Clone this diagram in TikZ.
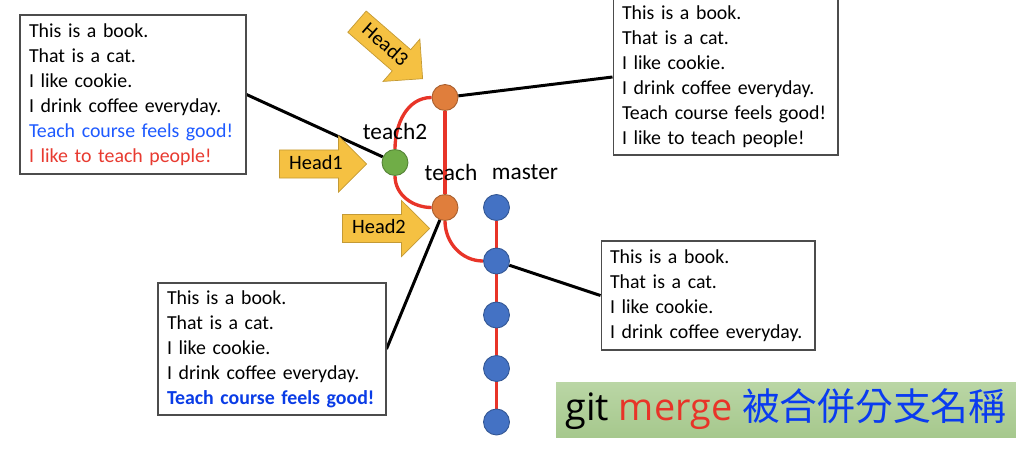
\documentclass[tikz,border=0pt]{standalone}
\usepackage{fontspec}
\setmainfont{Carlito}
\newfontfamily\cjkfont{Noto Sans CJK TC}
\newfontfamily\bannerfont{Open Sans}
\usetikzlibrary{shapes.arrows,backgrounds}
\definecolor{gold}{RGB}{245,193,66}
\definecolor{orng}{RGB}{224,126,60}
\definecolor{grn}{RGB}{112,173,71}
\definecolor{blu}{RGB}{68,114,196}
\definecolor{gitred}{RGB}{232,52,40}
\definecolor{txtblue}{RGB}{30,90,255}
\definecolor{txtred}{RGB}{232,58,48}
\definecolor{boldblue}{RGB}{10,60,230}
\definecolor{cnblue}{RGB}{10,59,240}
\tikzset{
  msg/.style    ={draw=black!70,line width=0.6pt,fill=white,align=left,inner xsep=0.18cm,inner ysep=0pt,
                  font=\fontsize{11.3}{14.2}\selectfont},
  commit/.style ={circle,minimum size=0.52cm,inner sep=0pt,line width=0.5pt},
  ocommit/.style={commit,fill=orng,draw=orng!75!black},
  gcommit/.style={commit,fill=grn,draw=grn!75!black},
  bcommit/.style={commit,fill=blu,draw=blu!75!black},
  headarr/.style={single arrow,fill=gold,draw=gold!80!black,line width=0.4pt,anchor=tip,
                  font=\fontsize{11.6}{14}\selectfont,text height=8.5pt,text depth=2.5pt,inner ysep=2.3pt,
                  inner xsep=2pt,single arrow head extend=0.28cm,minimum height=1.74cm},
  blabel/.style ={font=\fontsize{13.3}{15}\selectfont,inner sep=0pt},
  link/.style   ={line width=1.7pt},
  branch/.style ={draw=gitred,line width=1.9pt},
}

\begin{document}
\begin{tikzpicture}[x=0.02cm,y=-0.02cm]
  \useasboundingbox (0,0) rectangle (1024,450);
  \node[msg,text width=4.16cm,minimum width=4.52cm,minimum height=3.18cm] (b1) at (133,94.5)
    {This is a book.\\That is a cat.\\I like cookie.\\I drink coffee everyday.\\
     \textcolor{txtblue}{Teach course feels good!}\\\textcolor{txtred}{I like to teach people!}};
  \node[msg,text width=4.14cm,minimum width=4.5cm,minimum height=3.12cm] (b2) at (725.5,77)
    {This is a book.\\That is a cat.\\I like cookie.\\I drink coffee everyday.\\
     Teach course feels good!\\I like to teach people!};
  \node[msg,text width=3.92cm,minimum width=4.28cm,minimum height=2.18cm] (b3) at (708,295.5)
    {This is a book.\\That is a cat.\\I like cookie.\\I drink coffee everyday.};
  \node[msg,text width=4.2cm,minimum width=4.56cm,minimum height=2.64cm] (b4) at (272,349)
    {This is a book.\\That is a cat.\\I like cookie.\\I drink coffee everyday.\\
     \mbox{\textcolor{boldblue}{\bfseries Teach course feels good!}}};

  \node[ocommit] (ot) at (445,97.5) {};
  \node[gcommit] (gr) at (395,162.5) {};
  \node[ocommit] (om) at (445,207.5) {};
  \node[bcommit] (m1) at (496.5,207.5) {};
  \node[bcommit] (m2) at (496.5,261) {};
  \node[bcommit] (m3) at (496.5,315) {};
  \node[bcommit] (m4) at (496.5,368.5) {};
  \node[bcommit] (m5) at (496.5,422) {};

  \begin{scope}[on background layer]
    \draw[branch] (ot) -- (om);
    \draw[branch] (ot) to[out=180,in=90] (gr) to[out=-90,in=180] (om);
    \draw[branch] (om) to[out=-90,in=180] (m2);
    \draw[branch] (m1) -- (m5);
    \draw[link] (b1.east) -- (gr);
    \draw[link] (ot) -- (b2.west);
    \draw[link] (m2) -- (b3.west);
    \draw[link] (om) -- (b4.east);
  \end{scope}

  \node[blabel] (l1) at (395,131) {teach2};
  \node[blabel] (l2) at (451,172) {teach};
  \node[blabel] (l3) at (525,172) {master};

  \node[headarr] (h1) at (367,164) {Head1};
  \node[headarr] (h2) at (430,228.5) {Head2};
  \node[headarr,rotate=-41] (h3) at (423,79) {Head3};

  \node[top color={rgb,255:red,186;green,214;blue,165},bottom color={rgb,255:red,166;green,200;blue,141},
        minimum width=9.2cm,minimum height=1.1cm,inner sep=0pt] (mg) at (786,409.5)
    {\fontsize{21.5}{24}\selectfont\bannerfont git \textcolor{gitred}{merge} \textcolor{cnblue}{\cjkfont 被合併分支名稱}};
\end{tikzpicture}
\end{document}
